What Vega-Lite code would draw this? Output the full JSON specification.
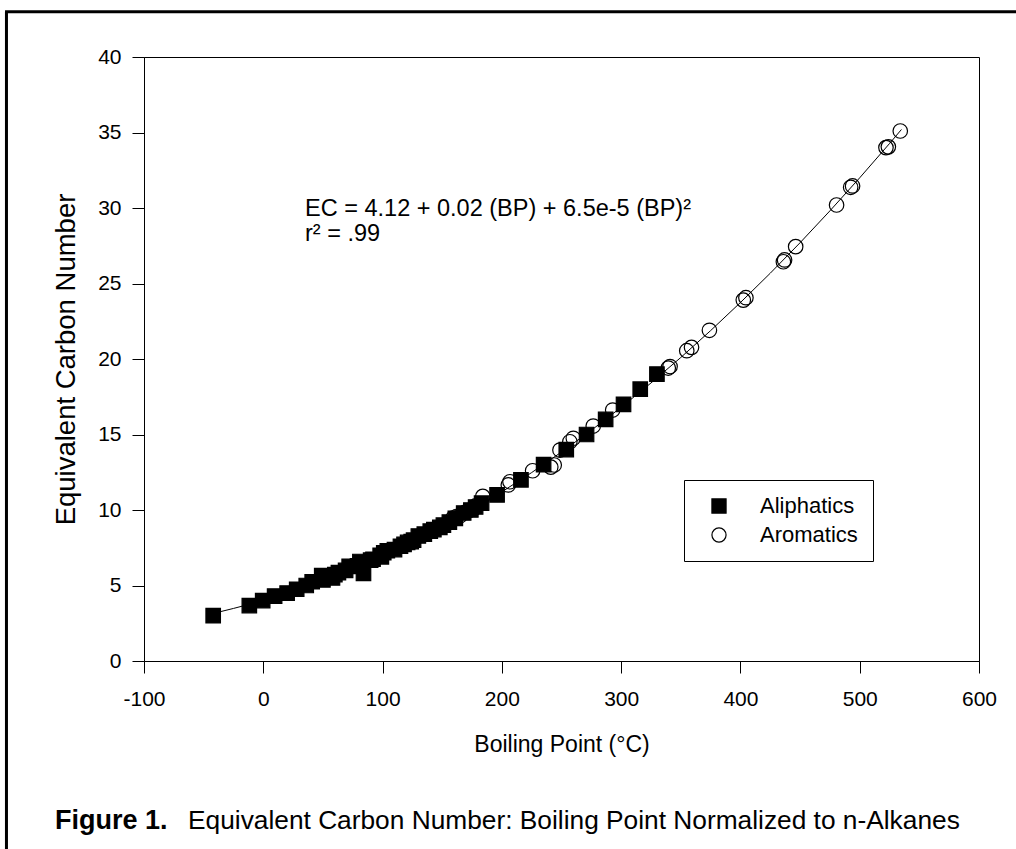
{
  "$schema": "https://vega.github.io/schema/vega-lite/v6.json",
  "width": 835,
  "height": 604,
  "autosize": {"type": "none"},
  "padding": {"left": 144, "top": 57, "right": 37, "bottom": 188},
  "background": "white",
  "config": {
    "font": "Liberation Sans",
    "view": {"stroke": "black", "strokeWidth": 1},
    "axis": {
      "grid": false,
      "domainColor": "black",
      "tickColor": "black",
      "labelColor": "black",
      "titleColor": "black",
      "labelFont": "Liberation Sans",
      "titleFont": "Liberation Sans",
      "titleFontWeight": "normal",
      "tickSize": 12,
      "labelFontSize": 21,
      "labelOverlap": false,
      "labelFlush": false
    },
    "legend": {
      "strokeColor": "black",
      "padding": 15,
      "symbolOffset": 9,
      "labelFontSize": 22,
      "labelFont": "Liberation Sans",
      "labelColor": "black",
      "symbolSize": 200,
      "symbolStrokeWidth": 1.2,
      "labelOffset": 30,
      "rowPadding": 7
    }
  },
  "datasets": {
    "compounds": [
      {"type": "Aromatics", "bp": 159, "ec": 9.47},
      {"type": "Aromatics", "bp": 162, "ec": 9.57},
      {"type": "Aromatics", "bp": 165, "ec": 9.62},
      {"type": "Aromatics", "bp": 169, "ec": 9.84},
      {"type": "Aromatics", "bp": 173, "ec": 9.98},
      {"type": "Aromatics", "bp": 176, "ec": 10.06},
      {"type": "Aromatics", "bp": 178, "ec": 10.27},
      {"type": "Aromatics", "bp": 184, "ec": 10.9},
      {"type": "Aromatics", "bp": 205.4, "ec": 11.66},
      {"type": "Aromatics", "bp": 206.8, "ec": 11.87},
      {"type": "Aromatics", "bp": 225.8, "ec": 12.6},
      {"type": "Aromatics", "bp": 241, "ec": 12.84},
      {"type": "Aromatics", "bp": 243.9, "ec": 12.98},
      {"type": "Aromatics", "bp": 248.7, "ec": 13.97},
      {"type": "Aromatics", "bp": 257, "ec": 14.52},
      {"type": "Aromatics", "bp": 259.9, "ec": 14.75},
      {"type": "Aromatics", "bp": 276.6, "ec": 15.56},
      {"type": "Aromatics", "bp": 292.9, "ec": 16.62},
      {"type": "Aromatics", "bp": 339.5, "ec": 19.4},
      {"type": "Aromatics", "bp": 341, "ec": 19.5},
      {"type": "Aromatics", "bp": 355, "ec": 20.55},
      {"type": "Aromatics", "bp": 359, "ec": 20.77},
      {"type": "Aromatics", "bp": 374, "ec": 21.9},
      {"type": "Aromatics", "bp": 402.4, "ec": 23.9},
      {"type": "Aromatics", "bp": 404.6, "ec": 24.06},
      {"type": "Aromatics", "bp": 436, "ec": 26.44},
      {"type": "Aromatics", "bp": 437, "ec": 26.56},
      {"type": "Aromatics", "bp": 446.3, "ec": 27.44},
      {"type": "Aromatics", "bp": 480.6, "ec": 30.2},
      {"type": "Aromatics", "bp": 492.4, "ec": 31.37},
      {"type": "Aromatics", "bp": 494, "ec": 31.46},
      {"type": "Aromatics", "bp": 522, "ec": 34.0},
      {"type": "Aromatics", "bp": 524, "ec": 34.05},
      {"type": "Aromatics", "bp": 534, "ec": 35.1},
      {"type": "Aliphatics", "bp": -42, "ec": 3.0},
      {"type": "Aliphatics", "bp": -11.7, "ec": 3.67},
      {"type": "Aliphatics", "bp": -0.5, "ec": 4.0},
      {"type": "Aliphatics", "bp": 9.5, "ec": 4.3},
      {"type": "Aliphatics", "bp": 20, "ec": 4.5},
      {"type": "Aliphatics", "bp": 28, "ec": 4.75},
      {"type": "Aliphatics", "bp": 36, "ec": 5.0},
      {"type": "Aliphatics", "bp": 41, "ec": 5.25},
      {"type": "Aliphatics", "bp": 49, "ec": 5.66},
      {"type": "Aliphatics", "bp": 50, "ec": 5.37},
      {"type": "Aliphatics", "bp": 58, "ec": 5.5},
      {"type": "Aliphatics", "bp": 60, "ec": 5.72},
      {"type": "Aliphatics", "bp": 63, "ec": 5.85},
      {"type": "Aliphatics", "bp": 69, "ec": 6.0},
      {"type": "Aliphatics", "bp": 72, "ec": 6.27},
      {"type": "Aliphatics", "bp": 79, "ec": 6.3},
      {"type": "Aliphatics", "bp": 81, "ec": 6.59},
      {"type": "Aliphatics", "bp": 84, "ec": 5.8},
      {"type": "Aliphatics", "bp": 90, "ec": 6.68},
      {"type": "Aliphatics", "bp": 92, "ec": 6.74},
      {"type": "Aliphatics", "bp": 98, "ec": 7.0},
      {"type": "Aliphatics", "bp": 99, "ec": 6.9},
      {"type": "Aliphatics", "bp": 101, "ec": 7.17},
      {"type": "Aliphatics", "bp": 104, "ec": 7.3},
      {"type": "Aliphatics", "bp": 110, "ec": 7.38},
      {"type": "Aliphatics", "bp": 115, "ec": 7.6},
      {"type": "Aliphatics", "bp": 118, "ec": 7.72},
      {"type": "Aliphatics", "bp": 121, "ec": 7.85},
      {"type": "Aliphatics", "bp": 124, "ec": 7.9},
      {"type": "Aliphatics", "bp": 126, "ec": 8.0},
      {"type": "Aliphatics", "bp": 130, "ec": 8.28},
      {"type": "Aliphatics", "bp": 135, "ec": 8.4},
      {"type": "Aliphatics", "bp": 140, "ec": 8.6},
      {"type": "Aliphatics", "bp": 143, "ec": 8.7},
      {"type": "Aliphatics", "bp": 148, "ec": 8.85},
      {"type": "Aliphatics", "bp": 151, "ec": 9.0},
      {"type": "Aliphatics", "bp": 156, "ec": 9.2},
      {"type": "Aliphatics", "bp": 161, "ec": 9.45},
      {"type": "Aliphatics", "bp": 168, "ec": 9.8},
      {"type": "Aliphatics", "bp": 174, "ec": 10.0},
      {"type": "Aliphatics", "bp": 178, "ec": 10.2},
      {"type": "Aliphatics", "bp": 183, "ec": 10.45},
      {"type": "Aliphatics", "bp": 196, "ec": 11.0},
      {"type": "Aliphatics", "bp": 216, "ec": 12.0},
      {"type": "Aliphatics", "bp": 235, "ec": 13.0},
      {"type": "Aliphatics", "bp": 254, "ec": 14.0},
      {"type": "Aliphatics", "bp": 271, "ec": 15.0},
      {"type": "Aliphatics", "bp": 287, "ec": 16.0},
      {"type": "Aliphatics", "bp": 302, "ec": 17.0},
      {"type": "Aliphatics", "bp": 316, "ec": 18.0},
      {"type": "Aliphatics", "bp": 330, "ec": 19.0}
    ],
    "fit": [
      {"bp": -42, "ec": 3.15},
      {"bp": -25, "ec": 3.48},
      {"bp": 0, "ec": 4.0},
      {"bp": 25, "ec": 4.61},
      {"bp": 50, "ec": 5.3},
      {"bp": 75, "ec": 6.08},
      {"bp": 100, "ec": 6.94},
      {"bp": 125, "ec": 7.88},
      {"bp": 150, "ec": 8.9},
      {"bp": 175, "ec": 10.01},
      {"bp": 200, "ec": 11.2},
      {"bp": 225, "ec": 12.48},
      {"bp": 250, "ec": 13.84},
      {"bp": 275, "ec": 15.28},
      {"bp": 300, "ec": 16.8},
      {"bp": 325, "ec": 18.41},
      {"bp": 350, "ec": 20.1},
      {"bp": 375, "ec": 21.88},
      {"bp": 400, "ec": 23.74},
      {"bp": 425, "ec": 25.68},
      {"bp": 450, "ec": 27.7},
      {"bp": 475, "ec": 29.81},
      {"bp": 500, "ec": 32.0},
      {"bp": 525, "ec": 34.27},
      {"bp": 535, "ec": 35.2}
    ],
    "anchor": [{}]
  },
  "layer": [
    {
      "data": {"name": "fit"},
      "mark": {"type": "line", "color": "black", "strokeWidth": 1},
      "encoding": {
        "x": {
          "field": "bp", "type": "quantitative",
          "scale": {"domain": [-100, 600], "nice": false, "zero": false},
          "axis": {"values": [-100, 0, 100, 200, 300, 400, 500, 600], "labelExpr": "datum.value", "title": "Boiling Point (°C)", "titleFontSize": 23, "labelPadding": 15, "titlePadding": 24}
        },
        "y": {
          "field": "ec", "type": "quantitative",
          "scale": {"domain": [0, 40], "nice": false, "zero": false},
          "axis": {"values": [0, 5, 10, 15, 20, 25, 30, 35, 40], "title": "Equivalent Carbon Number", "titleFontSize": 27.5, "labelPadding": 11, "titlePadding": 17}
        }
      }
    },
    {
      "data": {"name": "compounds"},
      "mark": {"type": "point", "filled": true, "strokeWidth": 1.2, "opacity": 1, "size": 210},
      "encoding": {
        "x": {"field": "bp", "type": "quantitative", "scale": {"domain": [-100, 600], "nice": false, "zero": false}},
        "y": {"field": "ec", "type": "quantitative", "scale": {"domain": [0, 40], "nice": false, "zero": false}},
        "shape": {
          "field": "type", "type": "nominal",
          "scale": {"domain": ["Aliphatics", "Aromatics"], "range": ["square", "circle"]},
          "legend": {"title": null, "orient": "none", "legendX": 540, "legendY": 423}
        },
        "fill": {
          "field": "type", "type": "nominal",
          "scale": {"domain": ["Aliphatics", "Aromatics"], "range": ["black", "transparent"]},
          "legend": {"title": null, "orient": "none", "legendX": 540, "legendY": 423}
        },
        "stroke": {
          "field": "type", "type": "nominal",
          "scale": {"domain": ["Aliphatics", "Aromatics"], "range": ["black", "black"]},
          "legend": {"title": null, "orient": "none", "legendX": 540, "legendY": 423}
        }
      }
    },
    {
      "data": {"name": "anchor"},
      "mark": {"type": "text", "align": "left", "baseline": "alphabetic", "fontSize": 23.5, "lineHeight": 25, "font": "Liberation Sans", "color": "black",
        "text": ["EC = 4.12 + 0.02 (BP) + 6.5e-5 (BP)²", "r² = .99"]},
      "encoding": {
        "x": {"datum": 35, "type": "quantitative", "scale": {"domain": [-100, 600], "nice": false, "zero": false}},
        "y": {"datum": 29.5, "type": "quantitative", "scale": {"domain": [0, 40], "nice": false, "zero": false}}
      }
    },
    {
      "data": {"name": "anchor"},
      "mark": {"type": "text", "align": "left", "baseline": "alphabetic", "fontSize": 27, "fontWeight": "bold", "font": "Liberation Sans", "color": "black", "text": "Figure 1."},
      "encoding": {
        "x": {"datum": -174.6, "type": "quantitative", "scale": {"domain": [-100, 600], "nice": false, "zero": false}},
        "y": {"datum": -11.1, "type": "quantitative", "scale": {"domain": [0, 40], "nice": false, "zero": false}}
      }
    },
    {
      "data": {"name": "anchor"},
      "mark": {"type": "text", "align": "left", "baseline": "alphabetic", "fontSize": 26.3, "font": "Liberation Sans", "color": "black", "text": "Equivalent Carbon Number: Boiling Point Normalized to n-Alkanes"},
      "encoding": {
        "x": {"datum": -63.1, "type": "quantitative", "scale": {"domain": [-100, 600], "nice": false, "zero": false}},
        "y": {"datum": -11.1, "type": "quantitative", "scale": {"domain": [0, 40], "nice": false, "zero": false}}
      }
    },
    {
      "data": {"name": "anchor"},
      "mark": {"type": "rule", "color": "black", "strokeWidth": 3},
      "encoding": {
        "x": {"datum": -215.3, "type": "quantitative", "scale": {"domain": [-100, 600], "nice": false, "zero": false}},
        "y": {"datum": 43.0, "type": "quantitative", "scale": {"domain": [0, 40], "nice": false, "zero": false}},
        "y2": {"datum": -12.6}
      }
    },
    {
      "data": {"name": "anchor"},
      "mark": {"type": "rule", "color": "black", "strokeWidth": 3},
      "encoding": {
        "x": {"datum": -216.5, "type": "quantitative", "scale": {"domain": [-100, 600], "nice": false, "zero": false}},
        "x2": {"datum": 632},
        "y": {"datum": 43.0, "type": "quantitative", "scale": {"domain": [0, 40], "nice": false, "zero": false}}
      }
    }
  ]
}
